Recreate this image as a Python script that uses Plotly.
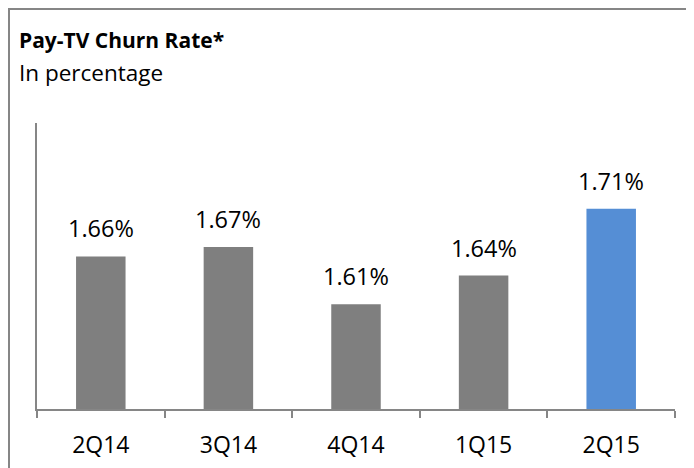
import plotly.graph_objects as go

quarters = ["2Q14", "3Q14", "4Q14", "1Q15", "2Q15"]
churn = [1.66, 1.67, 1.61, 1.64, 1.71]
labels = ["1.66%", "1.67%", "1.61%", "1.64%", "1.71%"]
bar_colors = ["#7F7F7F", "#7F7F7F", "#7F7F7F", "#7F7F7F", "#558ED5"]

FONT = "Open Sans"
# page body has an 8px margin, so the figure is drawn 8px in from the top-left
OFF = 8
W, H = 686, 460
L, R, T, B = 29, 19, 115, 59
pw, ph = W - L - R, H - T - B

def px_x(x):
    return (x - OFF - L) / pw

def px_y(y):
    return (H - B - (y - OFF)) / ph

fig = go.Figure(go.Bar(
    x=quarters, y=churn, marker=dict(color=bar_colors, line=dict(width=0)),
    hoverinfo="skip",
))

for q, v, t in zip(quarters, churn, labels):
    fig.add_annotation(x=q, y=v, text=t, showarrow=False, yanchor="bottom",
                       yshift=10, font=dict(family=FONT, size=23.5, color="#000000"))

fig.add_annotation(xref="paper", yref="paper", x=px_x(17), y=px_y(40),
                   xanchor="left", yanchor="middle", showarrow=False,
                   text="<b>Pay-TV Churn Rate*</b>",
                   font=dict(family=FONT, size=21, color="#000000"))
fig.add_annotation(xref="paper", yref="paper", x=px_x(17), y=px_y(72),
                   xanchor="left", yanchor="middle", showarrow=False,
                   text="In percentage",
                   font=dict(family=FONT, size=22.5, color="#000000"))

fig.add_shape(type="rect", xref="paper", yref="paper",
              x0=px_x(9), x1=px_x(720), y0=px_y(9), y1=px_y(500),
              line=dict(color="#868686", width=2), fillcolor="rgba(0,0,0,0)")

fig.update_layout(
    width=W, height=H, margin=dict(l=L, r=R, t=T, b=B, autoexpand=False),
    paper_bgcolor="white", plot_bgcolor="white",
    bargap=0.612, showlegend=False,
    font=dict(family=FONT, size=22, color="#000000"),
)
fig.update_xaxes(showline=True, linecolor="#868686", linewidth=1.5,
                 ticks="outside", tickson="boundaries", ticklen=7,
                 tickcolor="#868686", tickwidth=1.5, showgrid=False,
                 ticklabelstandoff=15, automargin=False,
                 tickfont=dict(family=FONT, size=23, color="#000000"))
fig.update_yaxes(range=[1.5, 1.8], showline=True, linecolor="#868686",
                 linewidth=1.5, showticklabels=False, showgrid=False,
                 zeroline=False, ticks="", automargin=False)

fig.write_html("out.html")
